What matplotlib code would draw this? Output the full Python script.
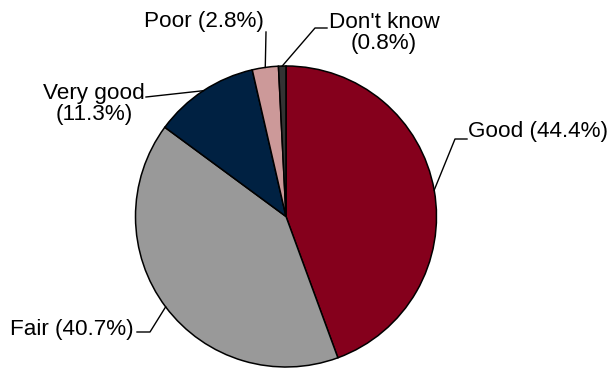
import numpy as np
import matplotlib
matplotlib.use("Agg")
import matplotlib.pyplot as plt

labels = ["Good", "Fair", "Very good", "Poor", "Don't know"]
shares = [44.4, 40.7, 11.3, 2.8, 0.8]
label_text = ["Good (44.4%)", "Fair (40.7%)", "Very good\n(11.3%)",
              "Poor (2.8%)", "Don't know\n(0.8%)"]
colors = ["#85001C", "#999999", "#002142", "#CC9999", "#333333"]

plt.rcParams["font.family"] = ["Liberation Sans", "DejaVu Sans"]

fig = plt.figure(figsize=(6.08, 3.69), dpi=100)
ax = fig.add_axes([0, 0, 1, 1])

cx, cy, r = 286, 152.5, 150.5
wedges, _ = ax.pie(shares, colors=colors, startangle=90, counterclock=False,
                   center=(cx, cy), radius=r, frame=True,
                   wedgeprops=dict(edgecolor="black", linewidth=1.1))
ax.set_xlim(0, 608)
ax.set_ylim(0, 369)
ax.set_aspect("equal")
ax.axis("off")

# leader layout: (elbow point, end point, text pos, ha)
layout = {
    "Good": ((455, 230), (467, 230), (468, 237), "left"),
    "Fair": ((150, 37), (137, 37), (134, 39), "right"),
    "Very good": (None, (146, 272), (145, 265), "right"),
    "Poor": (None, (266, 337), (264, 347), "right"),
    "Don't know": ((315, 341), (327, 341), (384, 336), "center"),
}

for w, lab, txt in zip(wedges, labels, label_text):
    ang = np.deg2rad((w.theta1 + w.theta2) / 2)
    ax0 = cx + r * np.cos(ang)
    ay0 = cy + r * np.sin(ang)
    elbow, end, tpos, ha = layout[lab]
    xs = [ax0] + ([elbow[0]] if elbow else []) + [end[0]]
    ys = [ay0] + ([elbow[1]] if elbow else []) + [end[1]]
    ax.plot(xs, ys, color="black", linewidth=1.0)
    ax.text(tpos[0], tpos[1], txt, ha=ha, va="center", multialignment="center",
            fontsize=16.2, linespacing=1.0)

fig.savefig("out.png", dpi=100)
